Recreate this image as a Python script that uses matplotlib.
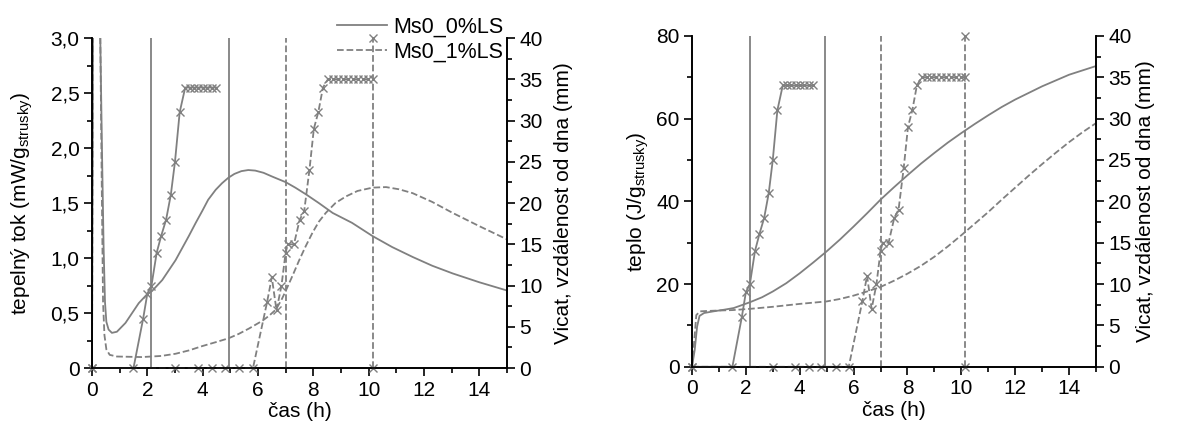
import matplotlib
matplotlib.use("Agg")
import matplotlib.pyplot as plt
from matplotlib.ticker import MultipleLocator, FuncFormatter


# heat flow (mW/g), left panel
FLOW0_T = [0, 0.04, 0.12, 0.2, 0.3, 0.36, 0.42, 0.47, 0.52, 0.6, 0.72, 0.9, 1.21,
           1.45, 1.69, 1.99, 2.17, 2.54, 3.02, 3.5, 3.75, 3.99, 4.2, 4.47, 4.7, 4.93,
           5.15, 5.4, 5.65, 5.9, 6.2, 6.52, 7.0, 7.35, 7.73, 8.2, 8.7, 9.4, 10.14,
           10.85, 11.59, 12.3, 13.04, 14.0, 15.0]
FLOW0 = [0, 3.5, 4.5, 4.0, 3.0, 2.0, 1.1, 0.6, 0.42, 0.35, 0.32, 0.33, 0.41,
         0.50, 0.59, 0.67, 0.70, 0.80, 0.98, 1.20, 1.32, 1.43, 1.53, 1.62, 1.68, 1.73,
         1.765, 1.79, 1.80, 1.795, 1.775, 1.74, 1.69, 1.64, 1.58, 1.50, 1.41, 1.32, 1.20,
         1.10, 1.01, 0.93, 0.86, 0.78, 0.705]
FLOW1_T = [0, 0.05, 0.15, 0.25, 0.3, 0.36, 0.4, 0.45, 0.52, 0.64, 0.9, 1.8, 2.5,
           3.02, 3.5, 3.99, 4.47, 4.93, 5.3, 5.68, 6.16, 6.4, 6.64, 6.85, 7.0, 7.25,
           7.49, 7.73, 7.97, 8.2, 8.45, 8.8, 9.18, 9.6, 10.14, 10.63, 11.1, 11.59,
           12.3, 13.04, 14.0, 15.0]
FLOW1 = [0, 4.0, 5.0, 4.5, 3.0, 1.5, 0.6, 0.3, 0.17, 0.12, 0.105, 0.10, 0.11,
         0.13, 0.16, 0.20, 0.235, 0.27, 0.31, 0.36, 0.43, 0.475, 0.53, 0.62, 0.70, 0.84,
         0.98, 1.11, 1.23, 1.33, 1.41, 1.50, 1.56, 1.61, 1.64, 1.645, 1.625, 1.59,
         1.51, 1.41, 1.29, 1.17]

# cumulative heat (J/g), right panel
HEAT0_T = [0, 0.1, 0.19, 0.28, 0.45, 0.8, 1.2, 1.55, 2.15, 2.6, 3.0, 3.5, 4.0, 4.5,
           5.0, 5.5, 6.0, 6.5, 7.0, 7.5, 8.0, 8.5, 9.0, 9.5, 10.0, 10.5, 11.0, 11.5,
           12.0, 13.0, 14.0, 15.0]
HEAT0 = [0, 4, 9.7, 12.3, 13.0, 13.4, 13.8, 14.2, 15.6, 16.8, 18.2, 20.2, 22.6, 25.2,
         27.9, 30.8, 33.9, 37.1, 40.4, 43.4, 46.3, 49.1, 51.7, 54.2, 56.5, 58.7, 60.8, 62.8,
         64.6, 67.8, 70.6, 72.7]
HEAT1_T = [0, 0.08, 0.16, 0.3, 0.6, 1.0, 1.5, 2.15, 3.0, 4.0, 5.0, 5.5, 6.0, 6.5,
           7.0, 7.5, 8.0, 8.5, 9.0, 9.5, 10.0, 10.5, 11.0, 11.5, 12.0, 12.5, 13.0,
           13.5, 14.0, 14.5, 15.0]
HEAT1 = [0, 6, 12.5, 13.4, 13.5, 13.6, 13.7, 14.0, 14.5, 15.2, 15.8, 16.4, 17.2, 18.2,
         19.3, 20.8, 22.5, 24.4, 26.6, 29.1, 31.8, 34.6, 37.4, 40.4, 43.3, 46.2, 49.0,
         51.7, 54.3, 56.7, 58.9]

# Vicat, distance from bottom (mm)
VICAT0_T = [0, 1.5, 1.85, 2.0, 2.15, 2.34, 2.5, 2.68, 2.85, 3.0, 3.17, 3.37, 3.53,
            3.69, 3.85, 4.01, 4.17, 4.33, 4.5]
VICAT0 = [0, 0, 6, 9, 10, 14, 16, 18, 21, 25, 31, 34, 34, 34, 34, 34, 34, 34, 34]
VICAT1_T = [0, 3.0, 3.84, 4.35, 4.8, 5.33, 5.82, 6.33, 6.5, 6.67, 6.85, 7.0, 7.08,
            7.3, 7.51, 7.67, 7.86, 8.02, 8.18, 8.35, 8.53, 8.71, 8.89, 9.07, 9.25,
            9.43, 9.61, 9.79, 9.97, 10.15]
VICAT1 = [0, 0, 0, 0, 0, 0, 0, 8, 11, 7, 10, 14, 15, 15, 18, 19, 24, 29, 31, 34,
          35, 35, 35, 35, 35, 35, 35, 35, 35, 35]

# initial / final set times (h)
SET0 = [2.15, 4.95]
SET1 = [7.0, 10.15]

LABELS = ['Ms0_0%LS', 'Ms0_1%LS']
GRAY = '#808080'

plt.rcParams['font.family'] = ['Liberation Sans', 'DejaVu Sans']
plt.rcParams['mathtext.fontset'] = 'custom'
plt.rcParams['mathtext.rm'] = 'Liberation Sans'


def comma(v, pos):
    if abs(v) < 1e-9:
        return '0'
    return ('%.1f' % v).replace('.', ',')


def style(ax):
    ax.spines['top'].set_visible(False)
    for s in ax.spines.values():
        s.set_linewidth(1.2)
    ax.tick_params(which='major', direction='out', length=6, width=1.2, labelsize=15,
                   pad=3)
    ax.tick_params(which='minor', direction='out', length=3.5, width=1.2)


def panel(ax, t0, y0, t1, y1, ylim, ymaj, ylabel, fmt, lpad, rpad):
    ax.plot(t0, y0, color=GRAY, lw=1.3, ls='-', label=LABELS[0])
    ax.plot(t1, y1, color=GRAY, lw=1.3, ls='--', label=LABELS[1])
    ax.set_xlim(0, 15)
    ax.set_ylim(*ylim)
    ax.xaxis.set_major_locator(MultipleLocator(2))
    ax.xaxis.set_minor_locator(MultipleLocator(1))
    ax.yaxis.set_major_locator(MultipleLocator(ymaj))
    ax.yaxis.set_minor_locator(MultipleLocator(ymaj / 2))
    ax.yaxis.set_major_formatter(FuncFormatter(fmt))
    ax.set_xlabel('čas (h)', fontsize=15, labelpad=2)
    ax.set_ylabel(ylabel, fontsize=15, labelpad=lpad)
    style(ax)

    tx = ax.twinx()
    tx.plot(VICAT0_T, VICAT0, color=GRAY, lw=1.3, ls='-', marker='x', ms=6,
            mew=1.0, clip_on=False)
    tx.plot(VICAT1_T, VICAT1, color=GRAY, lw=1.3, ls='--', marker='x', ms=6,
            mew=1.0, clip_on=False)
    for x in SET0:
        tx.plot([x, x], [0, 40], color=GRAY, lw=1.3, ls='-')
    tx.plot([SET1[0], SET1[0]], [0, 40], color=GRAY, lw=1.3, ls='--')
    tx.plot([SET1[1], SET1[1]], [0, 40], color=GRAY, lw=1.3, ls='--',
            marker='x', ms=6, mew=1.0, clip_on=False)
    tx.set_ylim(0, 40)
    tx.yaxis.set_major_locator(MultipleLocator(5))
    tx.yaxis.set_minor_locator(MultipleLocator(2.5))
    tx.set_ylabel('Vicat, vzdálenost od dna (mm)', fontsize=15, labelpad=rpad)
    style(tx)
    return tx


fig = plt.figure(figsize=(11.9, 4.32), dpi=100)
ax1 = fig.add_axes([0.0773, 0.148, 0.3487, 0.764])
ax2 = fig.add_axes([0.5815, 0.151, 0.3395, 0.766])

tx1 = panel(ax1, FLOW0_T, FLOW0, FLOW1_T, FLOW1, (0, 3), 0.5,
            'tepelný tok (mW/g$_{\\mathrm{strusky}}$)', comma, 11, 8)
panel(ax2, HEAT0_T, HEAT0, HEAT1_T, HEAT1, (0, 80), 20,
      'teplo (J/g$_{\\mathrm{strusky}}$)', lambda v, p: '%d' % v, 4, 3)

leg = tx1.legend(*ax1.get_legend_handles_labels(), loc='upper right',
                 bbox_to_anchor=(0.992, 1.065), frameon=False, fontsize=15.5,
                 handlelength=2.3, handletextpad=0.3, borderaxespad=0,
                 borderpad=0, labelspacing=0.2)

fig.savefig('out.png', dpi=100)
